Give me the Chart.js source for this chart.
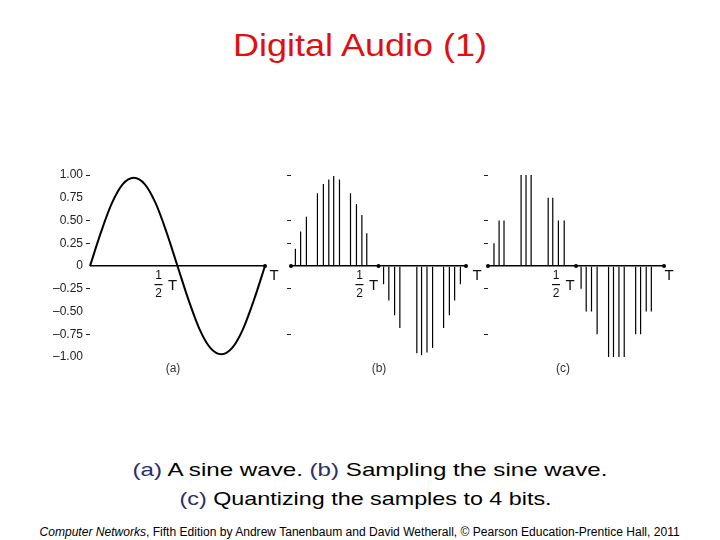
<!DOCTYPE html>
<html lang="en">
<head>
<meta charset="UTF-8">
<title>Digital Audio (1)</title>
<script src="https://cdn.jsdelivr.net/npm/chart.js"></script>
<style>
  body { margin: 0; width: 720px; height: 540px; background: #fff; position: relative; overflow: hidden;
         font-family: "Liberation Sans", Arial, sans-serif; }
  .txt { position: absolute; width: 720px; text-align: center; white-space: nowrap; }
  .txt > span { display: inline-block; transform-origin: center; }
  .title { color: #e01010; font-size: 32px; line-height: 32px; }
  .cap { color: #000; font-size: 19px; line-height: 22px; }
  .cap b { font-weight: normal; color: #2d2d6b; }
  .foot { color: #000; font-size: 12px; line-height: 14px; }
  .panel { position: absolute; }
</style>
</head>
<body>
<div class="txt title" style="top:29px; left:0px" data-w="254"><span>Digital Audio (1)</span></div>

<div class="panel" id="wrapA"><canvas id="chartA"></canvas></div>
<div class="panel" id="wrapB"><canvas id="chartB"></canvas></div>
<div class="panel" id="wrapC"><canvas id="chartC"></canvas></div>

<div class="txt cap" style="top:459px; left:10px" data-w="475"><span><b>(a)</b> A sine wave. <b>(b)</b> Sampling the sine wave.</span></div>
<div class="txt cap" style="top:488px; left:6px" data-w="372"><span><b>(c)</b> Quantizing the samples to 4 bits.</span></div>
<div class="txt foot" style="top:525px; left:0px" data-w="640"><span><i>Computer Networks</i>, Fifth Edition by Andrew Tanenbaum and David Wetherall, © Pearson Education-Prentice Hall, 2011</span></div>

<script>
// (a) sine wave, time in fractions of T
const sineT = [0, 0.0625, 0.125, 0.1875, 0.25, 0.3125, 0.375, 0.4375, 0.5,
               0.5625, 0.625, 0.6875, 0.75, 0.8125, 0.875, 0.9375, 1];
const sineV = [0, 0.37, 0.69, 0.90, 0.97, 0.90, 0.69, 0.37, 0,
               -0.37, -0.69, -0.90, -0.97, -0.90, -0.69, -0.37, 0];

// (b) samples
const sampleTB = [0.025, 0.055, 0.088, 0.151, 0.185, 0.216, 0.244, 0.277, 0.340, 0.374, 0.405, 0.433,
                  0.529, 0.559, 0.592, 0.622, 0.719, 0.746, 0.777, 0.809, 0.872, 0.905, 0.935, 0.968];
const sampleVB = [0.19, 0.38, 0.54, 0.80, 0.90, 0.95, 0.99, 0.95, 0.80, 0.68, 0.56, 0.36,
                  -0.20, -0.38, -0.54, -0.68, -0.96, -0.98, -0.95, -0.90, -0.68, -0.54, -0.38, -0.20];

// (c) quantized samples
const sampleTC = [0.034, 0.063, 0.091, 0.188, 0.216, 0.245, 0.342, 0.368, 0.400, 0.433,
                  0.529, 0.558, 0.588, 0.620, 0.685, 0.713, 0.744, 0.774, 0.839, 0.867, 0.899, 0.928];
const sampleVC = [0.25, 0.5, 0.5, 1, 1, 1, 0.75, 0.75, 0.5, 0.5,
                  -0.25, -0.5, -0.5, -0.75, -1, -1, -1, -1, -0.75, -0.75, -0.5, -0.5];

const axisDotsA = [1];
const axisDotsBC = [0, 0.5, 1];

const yTicks = [1, 0.75, 0.5, 0.25, 0, -0.25, -0.5, -0.75, -1];
const yTickLabels = ['1.00', '0.75', '0.50', '0.25', '0', '–0.25', '–0.50', '–0.75', '–1.00'];
const yDashed = [1, 0.5, 0.25, -0.25, -0.75];

// scale text to the slide's horizontal stretch
document.querySelectorAll('.txt').forEach(el => {
  const s = el.querySelector('span');
  s.style.transform = 'scaleX(' + (el.dataset.w / s.offsetWidth) + ')';
});

const pts = (xs, ys) => xs.map((x, i) => ({ x: x, y: ys[i] }));

const panelText = {
  id: 'panelText',
  afterDraw(chart, args, o) {
    const { ctx } = chart;
    const x = chart.scales.x, y = chart.scales.y;
    const y0 = y.getPixelForValue(0);
    const xh = x.getPixelForValue(0.5), xT = x.getPixelForValue(1);
    ctx.save();
    ctx.fillStyle = '#111';
    ctx.textAlign = 'center';
    ctx.textBaseline = 'middle';
    ctx.font = '15px "Liberation Sans", Arial, sans-serif';
    ctx.fillText('T', xT + o.tDx, y0 + 10);
    ctx.fillText('T', xh + o.hDx + 14, y0 + 20);
    ctx.font = '12px "Liberation Sans", Arial, sans-serif';
    ctx.fillText('1', xh + o.hDx, y0 + 10);
    ctx.fillText('2', xh + o.hDx, y0 + 28);
    ctx.fillRect(xh + o.hDx - 4, y0 + 18, 8, 1.2);
    ctx.fillStyle = '#333';
    ctx.fillText(o.label, x.left + o.labelDx, y.bottom + 12);
    ctx.restore();
  }
};

function makePanel(id, wrapId, box, datasets, text, showLabels) {
  const wrap = document.getElementById(wrapId);
  const padL = 10, axisW = 40, padR = 30, padT = 20, padB = 30;
  wrap.style.left = (box.left - padL - axisW) + 'px';
  wrap.style.top = (box.top - padT) + 'px';
  wrap.style.width = (box.right - box.left + padL + axisW + padR) + 'px';
  wrap.style.height = (box.bottom - box.top + padT + padB) + 'px';

  return new Chart(document.getElementById(id), {
    type: 'scatter',
    data: { datasets: datasets },
    options: {
      responsive: true,
      maintainAspectRatio: false,
      animation: false,
      layout: { padding: { left: padL, right: padR, top: padT, bottom: padB } },
      plugins: { legend: { display: false }, tooltip: { enabled: false }, panelText: text },
      scales: {
        x: { type: 'linear', min: 0, max: 1, offset: false, display: false },
        y: {
          min: -1, max: 1,
          afterBuildTicks: s => { s.ticks = yTicks.map(v => ({ value: v })); },
          afterFit: s => { s.width = axisW; },
          border: { display: false },
          grid: {
            drawOnChartArea: true,
            drawTicks: true,
            tickLength: 4,
            color: c => c.tick && c.tick.value === 0 ? '#000' : 'rgba(0,0,0,0)',
            lineWidth: c => c.tick && c.tick.value === 0 ? 1.6 : 1,
            tickColor: c => c.tick && yDashed.includes(c.tick.value) ? '#222' : 'rgba(0,0,0,0)',
            tickWidth: 1
          },
          ticks: {
            padding: 3,
            color: '#222',
            font: { family: '"Liberation Sans", Arial, sans-serif', size: 12 },
            callback: v => showLabels ? yTickLabels[yTicks.indexOf(v)] : ''
          }
        }
      }
    },
    plugins: [panelText]
  });
}

const dots = xs => ({
  type: 'scatter',
  data: xs.map(x => ({ x: x, y: 0 })),
  pointRadius: 2,
  pointBackgroundColor: '#000',
  pointBorderWidth: 0,
  clip: false
});

const stems = (xs, ys) => ({
  type: 'bar',
  data: pts(xs, ys),
  backgroundColor: '#000',
  barThickness: 1.2,
  inflateAmount: 0,
  borderWidth: 0,
  grouped: false
});

makePanel('chartA', 'wrapA', { left: 90, right: 265, top: 175, bottom: 357 }, [
  {
    type: 'line',
    data: pts(sineT, sineV),
    borderColor: '#000',
    borderWidth: 2,
    pointRadius: 0,
    showLine: true,
    cubicInterpolationMode: 'monotone',
    clip: false
  },
  dots(axisDotsA)
], { label: '(a)', labelDx: 83, tDx: 9, hDx: -19 }, true);

makePanel('chartB', 'wrapB', { left: 291, right: 466, top: 175, bottom: 357 }, [
  stems(sampleTB, sampleVB),
  dots(axisDotsBC)
], { label: '(b)', labelDx: 88, tDx: 11, hDx: -19 }, false);

makePanel('chartC', 'wrapC', { left: 488, right: 664, top: 175, bottom: 357 }, [
  stems(sampleTC, sampleVC),
  dots(axisDotsBC)
], { label: '(c)', labelDx: 75, tDx: 5, hDx: -20 }, false);
</script>
</body>
</html>
